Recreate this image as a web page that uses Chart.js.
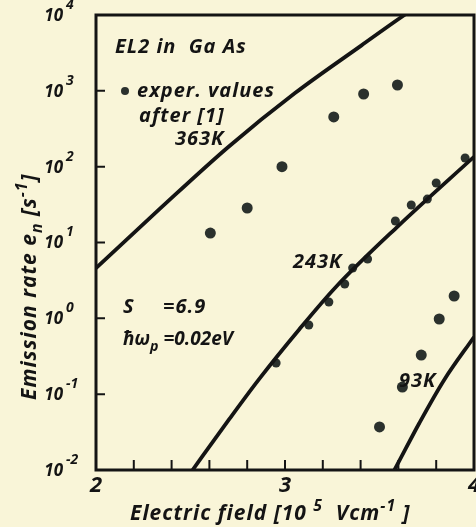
<!DOCTYPE html>
<html><head><meta charset="utf-8">
<script src="https://cdn.jsdelivr.net/npm/chart.js@4.4.0/dist/chart.umd.min.js"></script>
<style>html,body{margin:0;padding:0;background:#f9f5d8}#wrap{width:476px;height:527px}</style>
</head><body><div id="wrap"><canvas id="c" width="476" height="527"></canvas></div>
<script>
// ---- data ----
const rateDecades = [-2, -1, 0, 1, 2, 3, 4];
const fieldMin = 2, fieldMax = 4, fieldStep = 0.2;
// theoretical curves
const curve363Field = [2.0, 2.337, 2.7, 3.053, 3.405, 3.632, 4.0];
const curve363Rate  = [4.6, 27.7, 182, 935, 3980, 10000, 40000];
const curve243Field = [2.48, 2.511, 2.705, 2.863, 3.074, 3.268, 3.6, 4.0];
const curve243Rate  = [0.0078, 0.01, 0.0468, 0.158, 0.708, 2.57, 16.6, 135];
const curve93Field  = [3.56, 3.579, 3.711, 3.842, 4.0];
const curve93Rate   = [0.0082, 0.01, 0.0417, 0.154, 0.568];
// experimental values after [1]
const exp363Field = [2.605, 2.8, 2.984, 3.258, 3.416, 3.595];
const exp363Rate  = [13.3, 28.5, 100, 452, 908, 1194];
const exp243Field = [2.953, 3.126, 3.232, 3.316, 3.358, 3.437, 3.584, 3.668, 3.753, 3.8, 3.953];
const exp243Rate  = [0.258, 0.817, 1.64, 2.84, 4.61, 6.05, 19.2, 31.2, 37.4, 61, 130];
const exp93Field  = [3.5, 3.621, 3.721, 3.816, 3.895];
const exp93Rate   = [0.037, 0.124, 0.328, 0.98, 1.97];

const FONT = "'Open Sans', 'Noto Sans', 'DejaVu Sans', sans-serif";
const INK = '#141414';
const DOT = '#2b312d';
const pts = (xs, ys) => xs.map((x, i) => ({x, y: ys[i]}));

function drawSegs(ctx, x, y, segs, size) {
  let cx = x;
  for (const s of segs) {
    const fs = s.sup || s.sub ? size * 0.75 : size;
    ctx.font = `italic bold ${fs}px ${FONT}`;
    const dy = s.sup ? -size * 0.45 : (s.sub ? size * 0.3 : 0);
    ctx.fillText(s.t, cx, y + dy);
    cx += ctx.measureText(s.t).width;
  }
}

const decor = {
  id: 'decor',
  afterDraw(chart) {
    const {ctx, chartArea: a, scales: {x, y}} = chart;
    ctx.save();
    ctx.strokeStyle = INK; ctx.fillStyle = INK;
    // frame
    ctx.lineWidth = 3;
    ctx.strokeRect(a.left, a.top, a.right - a.left, a.bottom - a.top);
    // inward ticks
    ctx.lineWidth = 2;
    ctx.beginPath();
    for (const t of y.ticks) { const py = y.getPixelForValue(t.value); ctx.moveTo(a.left, py); ctx.lineTo(a.left + 9, py); }
    for (const t of x.ticks) { const px = x.getPixelForValue(t.value); ctx.moveTo(px, a.bottom); ctx.lineTo(px, a.bottom - 10); }
    ctx.stroke();
    // y tick labels 10^n
    ctx.textBaseline = 'middle';
    for (const t of y.ticks) {
      const py = y.getPixelForValue(t.value);
      const e = Math.round(Math.log10(t.value));
      ctx.textAlign = 'right';
      ctx.font = `italic bold 17px ${FONT}`;
      ctx.fillText('10', 63, py + 1);
      ctx.textAlign = 'left';
      ctx.font = `italic bold 14px ${FONT}`;
      ctx.fillText(e < 0 ? '-' + (-e) : String(e), 66, py - 10);
    }
    // axis titles
    ctx.textAlign = 'left'; ctx.textBaseline = 'alphabetic';
    ctx.letterSpacing = '1px';
    drawSegs(ctx, 130, 520, [{t: 'Electric field [10 '}, {t: '5', sup: 1}, {t: '  Vcm'}, {t: '-1', sup: 1}, {t: ' ]'}], 21);
    ctx.save();
    ctx.translate(36, 400); ctx.rotate(-Math.PI / 2);
    drawSegs(ctx, 0, 0, [{t: 'Emission rate e'}, {t: 'n', sub: 1}, {t: ' [s'}, {t: '-1', sup: 1}, {t: ']'}], 21);
    ctx.restore();
    // annotations
    ctx.font = `italic bold 20px ${FONT}`;
    ctx.fillText('EL2 in  Ga As', 115, 53);
    ctx.beginPath(); ctx.arc(125, 91, 4, 0, Math.PI * 2); ctx.fillStyle = DOT; ctx.fill(); ctx.fillStyle = INK;
    ctx.fillText('exper. values', 137, 97);
    ctx.fillText('after [1]', 139, 122);
    ctx.fillText('363K', 175, 145);
    ctx.fillText('243K', 293, 268);
    ctx.fillText('93K', 399, 387);
    ctx.fillText('S', 123, 313);
    ctx.fillText('=6.9', 163, 313);
    ctx.letterSpacing = '0px';
    drawSegs(ctx, 123, 345, [{t: 'ħω'}, {t: 'p', sub: 1}, {t: ' =0.02eV'}], 19);
    ctx.restore();
  }
};

const lineDs = (xs, ys) => ({type: 'line', data: pts(xs, ys), borderColor: INK, borderWidth: 3.8,
  pointRadius: 0, cubicInterpolationMode: 'monotone', fill: false});
const dotDs = (xs, ys, r) => ({type: 'scatter', data: pts(xs, ys), pointRadius: r, pointBackgroundColor: DOT,
  pointBorderWidth: 0, borderWidth: 0});

new Chart(document.getElementById('c'), {
  type: 'scatter',
  data: {datasets: [
    lineDs(curve363Field, curve363Rate),
    lineDs(curve243Field, curve243Rate),
    lineDs(curve93Field, curve93Rate),
    dotDs(exp363Field, exp363Rate, 5.5),
    dotDs(exp243Field, exp243Rate, 4.5),
    dotDs(exp93Field, exp93Rate, 5.5)
  ]},
  options: {
    responsive: false, animation: false, devicePixelRatio: 1,
    layout: {padding: {left: 0, top: 15, right: 2, bottom: 0}, autoPadding: false},
    plugins: {legend: {display: false}, tooltip: {enabled: false}},
    scales: {
      x: {type: 'linear', min: fieldMin, max: fieldMax,
        grid: {display: false, drawTicks: false}, border: {display: false},
        ticks: {stepSize: fieldStep, autoSkip: false, maxRotation: 0, padding: 3, color: INK,
          font: {family: FONT, size: 22, style: 'italic', weight: 'bold'},
          callback: v => { const r = Math.round(v * 10) / 10; return Math.abs(r - Math.round(r)) < 1e-6 ? String(Math.round(r)) : ''; }},
        afterFit: s => { s.height = 57; s.paddingLeft = 0; s.paddingRight = 0; }},
      y: {type: 'logarithmic', min: 0.01, max: 10000,
        grid: {display: false, drawTicks: false}, border: {display: false},
        ticks: {display: false},
        afterBuildTicks: s => { s.ticks = rateDecades.map(e => ({value: Math.pow(10, e)})); },
        afterFit: s => { s.width = 96; s.paddingTop = 0; s.paddingBottom = 0; }}
    }
  },
  plugins: [decor]
});
</script></body></html>
